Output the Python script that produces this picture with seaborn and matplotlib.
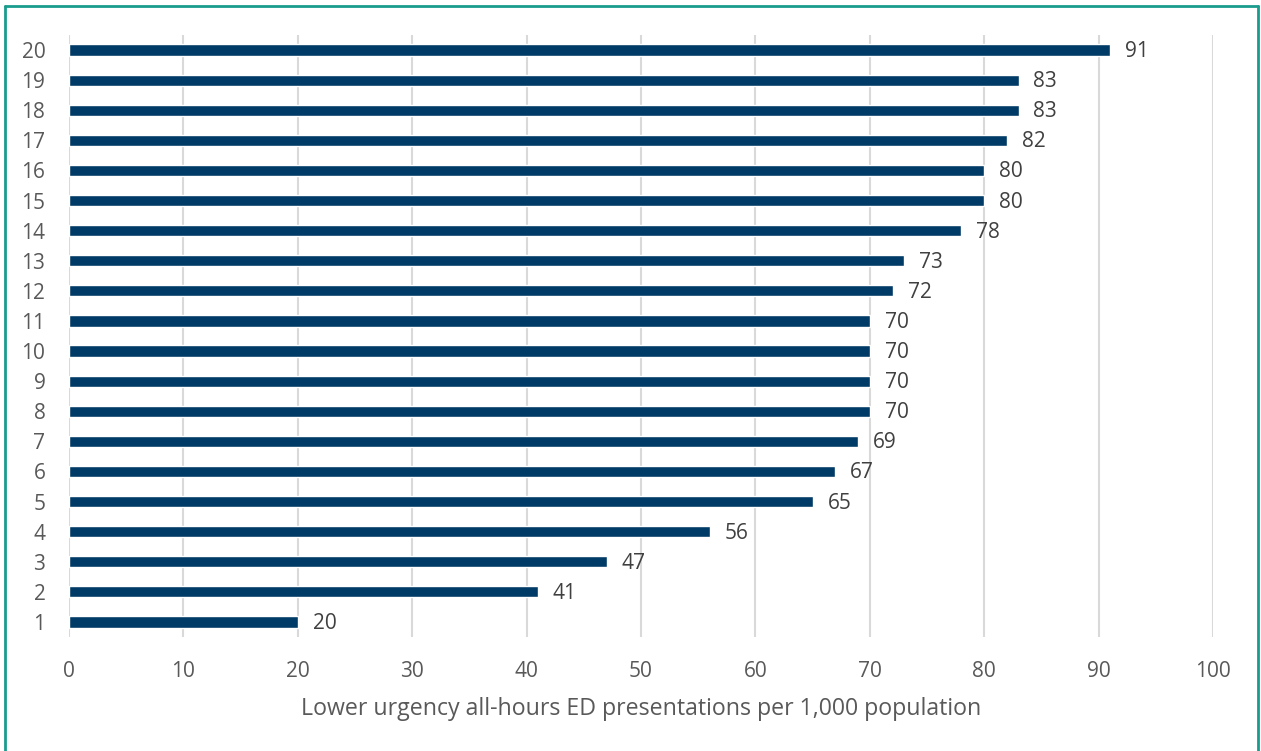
import matplotlib
matplotlib.use("Agg")
import matplotlib.pyplot as plt
import matplotlib.transforms as mtransforms
import seaborn as sns
import pandas as pd
from matplotlib.lines import Line2D

categories = [str(i) for i in range(1, 21)]
values = [20, 41, 47, 56, 65, 67, 69, 70, 70, 70, 70, 72, 73, 78, 80, 80, 82, 83, 83, 91]
x_ticks = [0, 10, 20, 30, 40, 50, 60, 70, 80, 90, 100]
x_label = "Lower urgency all-hours ED presentations per 1,000 population"

sns.set_theme(style="white")
plt.rcParams['font.family'] = ['Open Sans', 'DejaVu Sans']

df = pd.DataFrame({"cat": categories, "val": values})
order = categories[::-1]

W, H = 1261, 751
fig = plt.figure(figsize=(W / 100, H / 100), dpi=100)
ax = fig.add_axes([69 / W, 1 - 637 / H, (1213 - 69) / W, (637 - 35) / H])

sns.barplot(data=df, x="val", y="cat", order=order, orient="h",
            color="#003A66", saturation=1, width=0.37, ax=ax, zorder=3)

lookup = dict(zip(categories, values))
shift = mtransforms.offset_copy(ax.transData, fig=fig, x=0, y=-1.5, units="dots")
for p, c in zip(ax.patches, order):
    y = p.get_y() + p.get_height() / 2
    ax.text(p.get_width() + 1.3, y, str(lookup[c]), va="center", ha="left",
            fontsize=15, color="#404040", transform=shift)

ax.set_xlim(0, 100)
ax.set_ylim(19.5, -0.5)
ax.set_xticks(x_ticks)
ax.set_xticklabels([str(t) for t in x_ticks])
ax.xaxis.grid(True, color="#D9D9D9", linewidth=1.5, zorder=0)
ax.yaxis.grid(False)
for s in ax.spines.values():
    s.set_visible(False)
ax.tick_params(axis="both", length=0, labelsize=15, labelcolor="#595959")
ax.tick_params(axis="y", pad=17)
ax.tick_params(axis="x", pad=17)
ax.set_ylabel("")
ax.set_xlabel(x_label, fontsize=16.7, color="#595959", labelpad=11)

teal = "#1A9C8C"
lw = 2
fig.add_artist(Line2D([5 / W, 5 / W], [0, 1 - 6 / H], transform=fig.transFigure, color=teal, lw=lw))
fig.add_artist(Line2D([5 / W, 1258 / W], [1 - 6 / H, 1 - 6 / H], transform=fig.transFigure, color=teal, lw=lw))
fig.add_artist(Line2D([1258 / W, 1258 / W], [0, 1 - 6 / H], transform=fig.transFigure, color=teal, lw=lw))

fig.savefig("out.png", dpi=100)
